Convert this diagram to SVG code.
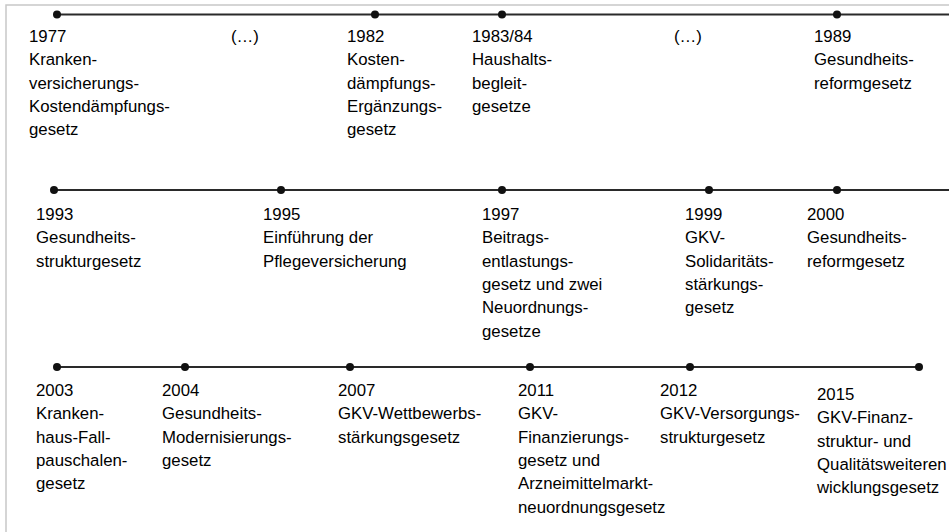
<svg xmlns="http://www.w3.org/2000/svg" width="949" height="532" viewBox="0 0 949 532">
<style>
.t{font-family:"Liberation Sans",Arial,sans-serif;font-size:16.8px;fill:#000}
.dot{fill:#111}
.ln{stroke:#2a2a2a;stroke-width:2;fill:none}
.frame{stroke:#c8c8c8;stroke-width:1.5;fill:none}
</style>
<rect width="949" height="532" fill="#fff"/>
<path class="frame" d="M6,532 V5 H949"/>
<g id="connectors">
<line class="ln" x1="57" y1="14.5" x2="949" y2="14.5"/>
<line class="ln" x1="54" y1="190" x2="949" y2="190"/>
<line class="ln" x1="57" y1="367" x2="919" y2="367"/>
</g>
<g id="n1977"><circle class="dot" cx="57" cy="14.5" r="4"/><text class="t" x="29" y="42">1977<tspan x="29" dy="23.3">Kranken-</tspan><tspan x="29" dy="23.3">versicherungs-</tspan><tspan x="29" dy="23.3">Kostendämpfungs-</tspan><tspan x="29" dy="23.3">gesetz</tspan></text></g>
<g id="gap1"><text class="t" x="231" y="42">(…)</text></g>
<g id="n1982"><circle class="dot" cx="375" cy="14.5" r="4"/><text class="t" x="347" y="42">1982<tspan x="347" dy="23.3">Kosten-</tspan><tspan x="347" dy="23.3">dämpfungs-</tspan><tspan x="347" dy="23.3">Ergänzungs-</tspan><tspan x="347" dy="23.3">gesetz</tspan></text></g>
<g id="n1983"><circle class="dot" cx="502" cy="14.5" r="4"/><text class="t" x="472" y="42">1983/84<tspan x="472" dy="23.3">Haushalts-</tspan><tspan x="472" dy="23.3">begleit-</tspan><tspan x="472" dy="23.3">gesetze</tspan></text></g>
<g id="gap2"><text class="t" x="674" y="42">(…)</text></g>
<g id="n1989"><circle class="dot" cx="837" cy="14.5" r="4"/><text class="t" x="814" y="42">1989<tspan x="814" dy="23.3">Gesundheits-</tspan><tspan x="814" dy="23.3">reformgesetz</tspan></text></g>

<g id="n1993"><circle class="dot" cx="54" cy="190" r="4"/><text class="t" x="36" y="220">1993<tspan x="36" dy="23.3">Gesundheits-</tspan><tspan x="36" dy="23.3">strukturgesetz</tspan></text></g>
<g id="n1995"><circle class="dot" cx="281" cy="190" r="4"/><text class="t" x="263" y="220">1995<tspan x="263" dy="23.3">Einführung der</tspan><tspan x="263" dy="23.3">Pflegeversicherung</tspan></text></g>
<g id="n1997"><circle class="dot" cx="502" cy="190" r="4"/><text class="t" x="482" y="220">1997<tspan x="482" dy="23.3">Beitrags-</tspan><tspan x="482" dy="23.3">entlastungs-</tspan><tspan x="482" dy="23.3">gesetz und zwei</tspan><tspan x="482" dy="23.3">Neuordnungs-</tspan><tspan x="482" dy="23.3">gesetze</tspan></text></g>
<g id="n1999"><circle class="dot" cx="709" cy="190" r="4"/><text class="t" x="685" y="220">1999<tspan x="685" dy="23.3">GKV-</tspan><tspan x="685" dy="23.3">Solidaritäts-</tspan><tspan x="685" dy="23.3">stärkungs-</tspan><tspan x="685" dy="23.3">gesetz</tspan></text></g>
<g id="n2000"><circle class="dot" cx="837" cy="190" r="4"/><text class="t" x="807" y="220">2000<tspan x="807" dy="23.3">Gesundheits-</tspan><tspan x="807" dy="23.3">reformgesetz</tspan></text></g>

<g id="n2003"><circle class="dot" cx="57" cy="367" r="4"/><text class="t" x="36" y="396">2003<tspan x="36" dy="23.3">Kranken-</tspan><tspan x="36" dy="23.3">haus-Fall-</tspan><tspan x="36" dy="23.3">pauschalen-</tspan><tspan x="36" dy="23.3">gesetz</tspan></text></g>
<g id="n2004"><circle class="dot" cx="185" cy="367" r="4"/><text class="t" x="162" y="396">2004<tspan x="162" dy="23.3">Gesundheits-</tspan><tspan x="162" dy="23.3">Modernisierungs-</tspan><tspan x="162" dy="23.3">gesetz</tspan></text></g>
<g id="n2007"><circle class="dot" cx="350" cy="367" r="4"/><text class="t" x="338" y="396">2007<tspan x="338" dy="23.3">GKV-Wettbewerbs-</tspan><tspan x="338" dy="23.3">stärkungsgesetz</tspan></text></g>
<g id="n2011"><circle class="dot" cx="530" cy="367" r="4"/><text class="t" x="518" y="396">2011<tspan x="518" dy="23.3">GKV-</tspan><tspan x="518" dy="23.3">Finanzierungs-</tspan><tspan x="518" dy="23.3">gesetz und</tspan><tspan x="518" dy="23.3">Arzneimittelmarkt-</tspan><tspan x="518" dy="23.3">neuordnungsgesetz</tspan></text></g>
<g id="n2012"><circle class="dot" cx="690" cy="367" r="4"/><text class="t" x="660" y="396">2012<tspan x="660" dy="23.3">GKV-Versorgungs-</tspan><tspan x="660" dy="23.3">strukturgesetz</tspan></text></g>
<g id="n2015"><circle class="dot" cx="919" cy="367" r="4"/><text class="t" x="817" y="400">2015<tspan x="817" dy="23.3">GKV-Finanz-</tspan><tspan x="817" dy="23.3">struktur- und</tspan><tspan x="817" dy="23.3">Qualitätsweiteren</tspan><tspan x="817" dy="23.3">wicklungsgesetz</tspan></text></g>
</svg>
